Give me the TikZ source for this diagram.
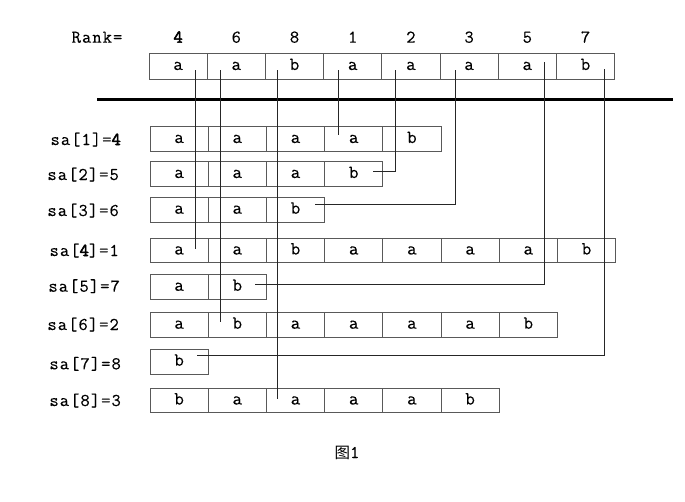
\documentclass[tikz,border=0pt]{standalone}
\usepackage{fontspec}
\newfontfamily\mono[LetterSpace=6,FakeBold=0.25]{Latin Modern Mono}
\newfontfamily\monobf[LetterSpace=6,FakeBold=3]{Latin Modern Mono}
\newfontfamily\cjk{Noto Sans CJK SC}
\usetikzlibrary{calc}
\newcommand\cellrow[3]{%
  \foreach \ch [count=\i] in {#3} {%
    \node[cellbox] (#1-\i) at ({150+29.1+(\i-1)*58.2},#2) {\ch};
  }%
}
\begin{document}
\begin{tikzpicture}[x=1pt,y=-1pt,
  cellbox/.style={draw=black!65, line width=0.8pt, minimum width=58.2pt, minimum height=24.5pt, inner sep=0pt, text height=8pt, text depth=0pt, font=\mono\fontsize{18.5}{18.5}\selectfont},
  txt/.style={inner sep=0pt, font=\mono\fontsize{18}{18}\selectfont},
  conn/.style={line width=0.8pt, black!85}]
\useasboundingbox (0,0) rectangle (685,501);
% top row
\node[txt, anchor=base] (rank) at (97,42.7) {Rank=};
\foreach \ch [count=\i] in {a,a,b,a,a,a,a,b} {
  \node[cellbox, minimum height=26pt] (top-\i) at ({149+29.1+(\i-1)*58.2},66) {\ch};
}
\foreach \r [count=\i] in {{\monobf 4},6,8,1,2,3,5,7} {
  \node[txt, anchor=base] (rk-\i) at ({149+29.1+(\i-1)*58.2},42.7) {\r};
}
% thick line
\coordinate (tl) at (97,99);
\coordinate (tr) at (673,99);
\draw[line width=3pt] (tl) -- (tr);
% rows
\cellrow{s1}{139}{a,a,a,a,b}
\cellrow{s2}{174}{a,a,a,b}
\cellrow{s3}{209.7}{a,a,b}
\cellrow{s4}{250.5}{a,a,b,a,a,a,a,b}
\cellrow{s5}{286.8}{a,b}
\cellrow{s6}{324.7}{a,b,a,a,a,a,b}
\cellrow{s7}{361.7}{b}
\cellrow{s8}{400.5}{b,a,a,a,a,b}
% labels
\node[txt, anchor=base east] (l1) at (121,145) {sa[1]={\monobf 4}};
\node[txt, anchor=base east] (l2) at (119,180) {sa[2]=5};
\node[txt, anchor=base east] (l3) at (119,216) {sa[3]=6};
\node[txt, anchor=base east] (l4) at (119,256) {sa[{\monobf 4}]=1};
\node[txt, anchor=base east] (l5) at (120,291.7) {sa[5]=7};
\node[txt, anchor=base east] (l6) at (119,330) {sa[6]=2};
\node[txt, anchor=base east] (l7) at (121,369.3) {sa[7]=8};
\node[txt, anchor=base east] (l8) at (121,406) {sa[8]=3};
% connectors
\coordinate (c1) at ($(top-1.center)+(17.6,4)$);
\coordinate (c2) at ($(top-2.center)+(-15.6,4)$);
\coordinate (c3) at ($(top-3.center)+(-16.8,4)$);
\coordinate (c4) at ($(top-4.center)+(-14.4,4)$);
\coordinate (c5) at ($(top-5.center)+(-15.9,4)$);
\coordinate (c6) at ($(top-6.center)+(-14.1,4)$);
\coordinate (c7) at ($(top-7.center)+(16.7,-4)$);
\coordinate (c8) at ($(top-8.center)+(18.5,3)$);
\draw[conn] (c1) -- ($(c1 |- s4-1.center)+(0,-2)$);
\draw[conn] (c2) -- ($(c2 |- s6-2.center)+(0,-3)$);
\draw[conn] (c3) -- ($(c3 |- s8-3.center)+(0,-1.5)$);
\draw[conn] (c4) -- ($(c4 |- s1-4.center)+(0,-4)$);
\draw[conn] (c5) -- ($(c5 |- s2-4.center)+(0,-3)$) -- ($(s2-4.center)+(19,-3)$);
\draw[conn] (c6) -- ($(c6 |- s3-3.center)+(0,-5.4)$) -- ($(s3-3.center)+(19.5,-5.4)$);
\draw[conn] (c7) -- ($(c7 |- s5-2.center)+(0,-2)$) -- ($(s5-2.center)+(17.7,-2)$);
\draw[conn] (c8) -- ($(c8 |- s7-1.center)+(0,-6.7)$) -- ($(s7-1.center)+(17.6,-6.7)$);
% caption
\node[inner sep=0pt, anchor=base] (cap) at (347,458) {{\cjk\fontsize{15.5}{15.5}\selectfont 图}{\mono\fontsize{18}{18}\selectfont 1}};
\end{tikzpicture}
\end{document}
